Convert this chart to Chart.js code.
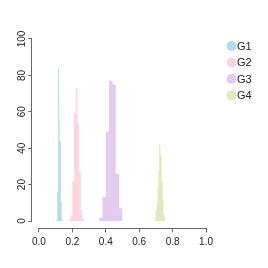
<!DOCTYPE html>
<html lang="en">
<head>
    <meta charset="UTF-8">
    <title>histograms</title>
    <style>
        body { margin: 0; background: #fff; }
    </style>
</head>
<body>
    <div style="width: 268px; height: 268px">
        <canvas id="myChart"></canvas>
    </div>

    <script src="https://cdn.jsdelivr.net/npm/chart.js"></script>

    <script>
        // groups and colours
        const groups = ['G1', 'G2', 'G3', 'G4'];
        const colors = ['#B4DBE7', '#FFD5DE', '#E2CBEE', '#DEE9BC'];

        // bin edges and counts
        const g1Edges = [0.105, 0.11, 0.115, 0.12, 0.125, 0.13, 0.135, 0.14];
        const g1Counts = [1, 16, 84, 89, 44, 11, 2];

        const g2Edges = [0.18, 0.19, 0.20, 0.21, 0.22, 0.23, 0.24, 0.25, 0.26, 0.27];
        const g2Counts = [1, 3, 22, 59, 73, 54, 27, 6, 1];

        const g3Edges = [0.36, 0.38, 0.40, 0.42, 0.44, 0.46, 0.48, 0.50];
        const g3Counts = [2, 13, 49, 77, 75, 26, 7];

        const g4Edges = [0.69, 0.695, 0.70, 0.705, 0.71, 0.715, 0.72, 0.725, 0.73, 0.735, 0.74, 0.745, 0.75, 0.755];
        const g4Counts = [1, 3, 6, 10, 18, 28, 42, 50, 36, 22, 12, 4, 2];

        const xTicks = [0, 0.2, 0.4, 0.6, 0.8, 1.0];
        const yTicks = [0, 20, 40, 60, 80, 100];

        const edges = [g1Edges, g2Edges, g3Edges, g4Edges];
        const counts = [g1Counts, g2Counts, g3Counts, g4Counts];

        // outline of a histogram: two corners per bin
        function outline(e, c) {
            let pts = [{ x: e[0], y: 0 }];
            for (let i = 0; i < c.length; i++) {
                pts.push({ x: e[i], y: c[i] });
                pts.push({ x: e[i + 1], y: c[i] });
            }
            pts.push({ x: e[c.length], y: 0 });
            return pts;
        }

        let datasets = groups.map((g, i) => ({
            label: g,
            data: outline(edges[i], counts[i]),
            fill: 'origin',
            backgroundColor: colors[i],
            borderColor: colors[i],
            borderWidth: 0.01,
            pointRadius: 0,
            tension: 0,
        }));

        const font = { family: 'Liberation Sans', size: 10 };

        // R style axis lines that only run from first to last tick
        const axisLines = {
            id: 'axisLines',
            afterDraw(chart) {
                const c = chart.ctx;
                const xs = chart.scales.x, ys = chart.scales.y;
                const area = chart.chartArea;
                c.save();
                c.strokeStyle = '#666';
                c.lineWidth = 1;
                c.beginPath();
                let yb = Math.round(area.bottom) + 0.5;
                c.moveTo(xs.getPixelForValue(xTicks[0]), yb);
                c.lineTo(xs.getPixelForValue(xTicks[xTicks.length - 1]), yb);
                let xl = Math.round(area.left) - 0.5;
                c.moveTo(xl, ys.getPixelForValue(yTicks[0]));
                c.lineTo(xl, ys.getPixelForValue(yTicks[yTicks.length - 1]));
                c.stroke();
                c.restore();
            }
        };

        // legend with filled circles on the right
        const dotLegend = {
            id: 'dotLegend',
            afterDraw(chart) {
                const c = chart.ctx;
                c.save();
                c.font = '11px "Liberation Sans"';
                c.textBaseline = 'middle';
                c.textAlign = 'left';
                chart.data.datasets.forEach((ds, i) => {
                    let y = 46 + i * 16.5;
                    c.fillStyle = ds.backgroundColor;
                    c.beginPath();
                    c.arc(231.5, y, 5, 0, Math.PI * 2);
                    c.fill();
                    c.fillStyle = '#222';
                    c.fillText(ds.label, 237, y + 0.5);
                });
                c.restore();
            }
        };

        let options = {
            responsive: true,
            maintainAspectRatio: false,
            animation: false,
            layout: {
                padding: { top: 31.7, right: 55.3, left: 0, bottom: 0 }
            },
            plugins: {
                legend: { display: false },
                tooltip: { enabled: false },
            },
            scales: {
                x: {
                    type: 'linear',
                    min: -0.04,
                    max: 1.04,
                    afterBuildTicks: s => { s.ticks = xTicks.map(v => ({ value: v })); },
                    afterFit: s => { s.height = 39.7; },
                    grid: { drawOnChartArea: false, tickLength: 4, color: '#666' },
                    border: { display: false },
                    ticks: {
                        color: '#222',
                        font: font,
                        padding: 4,
                        maxRotation: 0,
                        callback: v => v.toFixed(1),
                    },
                },
                y: {
                    min: -4,
                    max: 104,
                    afterBuildTicks: s => { s.ticks = yTicks.map(v => ({ value: v })); },
                    afterFit: s => { s.width = 32.3; },
                    grid: { drawOnChartArea: false, tickLength: 4, color: '#666' },
                    border: { display: false },
                    ticks: {
                        color: '#222',
                        font: font,
                        padding: -2,
                        minRotation: 90,
                        maxRotation: 90,
                        crossAlign: 'center',
                    },
                },
            },
        };

        const ctx = document.getElementById('myChart');

        let chart = new Chart(ctx, {
            type: 'line',
            data: { datasets: datasets },
            options: options,
            plugins: [axisLines, dotLegend],
        });
    </script>
</body>
</html>
